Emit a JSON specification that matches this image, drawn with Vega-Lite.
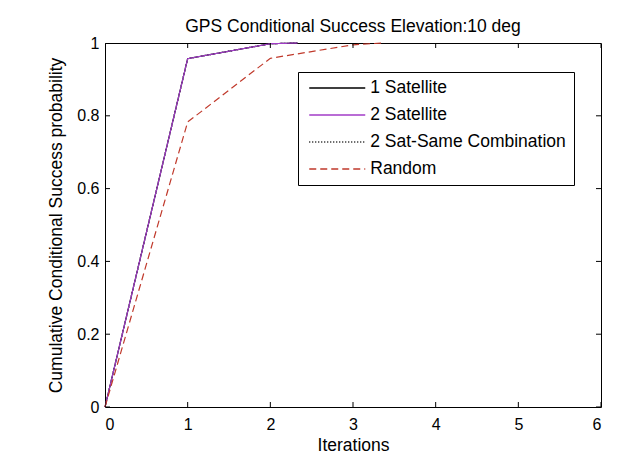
{
  "$schema": "https://vega.github.io/schema/vega-lite/v6.json",
  "width": 496,
  "height": 364,
  "autosize": {"type": "none"},
  "padding": {"left": 105, "top": 43, "right": 36, "bottom": 52},
  "background": "white",
  "title": {
    "text": "GPS Conditional Success Elevation:10 deg",
    "font": "Liberation Sans",
    "fontSize": 17.5,
    "fontWeight": "normal",
    "color": "black",
    "offset": 0
  },
  "config": {
    "view": {"stroke": "black", "strokeWidth": 1},
    "axis": {
      "grid": false,
      "domain": false,
      "ticks": false,
      "labelColor": "black",
      "titleColor": "black",
      "labelFont": "Liberation Sans",
      "titleFont": "Liberation Sans",
      "labelFontSize": 16,
      "titleFontSize": 17.5,
      "titleFontWeight": "normal"
    },
    "legend": {
      "orient": "none",
      "legendX": 193,
      "legendY": 29,
      "direction": "vertical",
      "symbolType": "stroke",
      "symbolSize": 3136,
      "symbolStrokeWidth": 1.3,
      "symbolOffset": 3,
      "symbolOpacity": 1,
      "clipHeight": 17.5,
      "rowPadding": 8,
      "labelOffset": 4,
      "labelFont": "Liberation Sans",
      "labelFontSize": 17.5,
      "labelColor": "black",
      "labelLimit": 400,
      "padding": 7.25,
      "strokeColor": "black",
      "fillColor": "white"
    }
  },
  "datasets": {
    "curves": [
      {"series": "1 Satellite", "iteration": 0, "prob": 0.0},
      {"series": "1 Satellite", "iteration": 1, "prob": 0.957},
      {"series": "1 Satellite", "iteration": 2, "prob": 0.998},
      {"series": "1 Satellite", "iteration": 2.33, "prob": 1.0},
      {"series": "2 Satellite", "iteration": 0, "prob": 0.0},
      {"series": "2 Satellite", "iteration": 1, "prob": 0.957},
      {"series": "2 Satellite", "iteration": 2, "prob": 0.998},
      {"series": "2 Satellite", "iteration": 2.33, "prob": 1.0},
      {"series": "2 Sat-Same Combination", "iteration": 0, "prob": 0.0},
      {"series": "2 Sat-Same Combination", "iteration": 1, "prob": 0.957},
      {"series": "2 Sat-Same Combination", "iteration": 2, "prob": 0.998},
      {"series": "2 Sat-Same Combination", "iteration": 2.33, "prob": 1.0},
      {"series": "Random", "iteration": 0, "prob": 0.0},
      {"series": "Random", "iteration": 1, "prob": 0.783},
      {"series": "Random", "iteration": 2, "prob": 0.958},
      {"series": "Random", "iteration": 3, "prob": 0.995},
      {"series": "Random", "iteration": 3.35, "prob": 1.0}
    ],
    "xTicks": [
      {"iteration": 0}, {"iteration": 1}, {"iteration": 2}, {"iteration": 3},
      {"iteration": 4}, {"iteration": 5}, {"iteration": 6}
    ],
    "yTicks": [
      {"prob": 0}, {"prob": 0.2}, {"prob": 0.4}, {"prob": 0.6}, {"prob": 0.8}, {"prob": 1}
    ]
  },
  "layer": [
    {
      "data": {"name": "curves"},
      "transform": [{"filter": "datum.series === '1 Satellite' || datum.series === '2 Sat-Same Combination'"}],
      "mark": {"type": "line", "strokeWidth": 1.2},
      "encoding": {
        "x": {
          "field": "iteration",
          "type": "quantitative",
          "scale": {"domain": [0, 6], "nice": false, "zero": false},
          "axis": {"title": "Iterations", "values": [0, 1, 2, 3, 4, 5, 6], "format": "d", "labelPadding": 9, "titlePadding": 4}
        },
        "y": {
          "field": "prob",
          "type": "quantitative",
          "scale": {"domain": [0, 1], "nice": false},
          "axis": {"title": "Cumulative Conditional Success probability", "values": [0, 0.2, 0.4, 0.6, 0.8, 1], "format": "~g", "labelPadding": 6, "titlePadding": 11}
        },
        "color": {
          "field": "series",
          "type": "nominal",
          "scale": {
            "domain": ["1 Satellite", "2 Satellite", "2 Sat-Same Combination", "Random"],
            "range": ["#000000", "#a23cc8", "#000000", "#c0392b"]
          },
          "legend": {"title": null}
        },
        "strokeDash": {
          "field": "series",
          "type": "nominal",
          "scale": {
            "domain": ["1 Satellite", "2 Satellite", "2 Sat-Same Combination", "Random"],
            "range": [[1, 0], [1, 0], [1, 2], [7, 4]]
          },
          "legend": {"title": null}
        }
      }
    },
    {
      "data": {"name": "curves"},
      "transform": [{"filter": "datum.series === '2 Satellite'"}],
      "mark": {"type": "line", "strokeWidth": 1.2},
      "encoding": {
        "x": {"field": "iteration", "type": "quantitative", "axis": null},
        "y": {"field": "prob", "type": "quantitative", "axis": null},
        "color": {"field": "series", "type": "nominal", "legend": {"title": null}},
        "strokeDash": {"field": "series", "type": "nominal", "legend": {"title": null}}
      }
    },
    {
      "data": {"name": "curves"},
      "transform": [{"filter": "datum.series === 'Random'"}],
      "mark": {"type": "line", "strokeWidth": 1.2},
      "encoding": {
        "x": {"field": "iteration", "type": "quantitative", "axis": null},
        "y": {"field": "prob", "type": "quantitative", "axis": null},
        "color": {"field": "series", "type": "nominal", "legend": {"title": null}},
        "strokeDash": {"field": "series", "type": "nominal", "legend": {"title": null}}
      }
    },
    {
      "data": {"name": "xTicks"},
      "mark": {"type": "tick", "orient": "vertical", "size": 10, "thickness": 1, "color": "black", "opacity": 1, "clip": true},
      "encoding": {
        "x": {"field": "iteration", "type": "quantitative", "axis": null},
        "y": {"datum": 0, "type": "quantitative", "axis": null}
      }
    },
    {
      "data": {"name": "xTicks"},
      "mark": {"type": "tick", "orient": "vertical", "size": 10, "thickness": 1, "color": "black", "opacity": 1, "clip": true},
      "encoding": {
        "x": {"field": "iteration", "type": "quantitative", "axis": null},
        "y": {"datum": 1, "type": "quantitative", "axis": null}
      }
    },
    {
      "data": {"name": "yTicks"},
      "mark": {"type": "tick", "orient": "horizontal", "size": 10, "thickness": 1, "color": "black", "opacity": 1, "clip": true},
      "encoding": {
        "y": {"field": "prob", "type": "quantitative", "axis": null},
        "x": {"datum": 0, "type": "quantitative", "axis": null}
      }
    },
    {
      "data": {"name": "yTicks"},
      "mark": {"type": "tick", "orient": "horizontal", "size": 10, "thickness": 1, "color": "black", "opacity": 1, "clip": true},
      "encoding": {
        "y": {"field": "prob", "type": "quantitative", "axis": null},
        "x": {"datum": 6, "type": "quantitative", "axis": null}
      }
    }
  ],
  "resolve": {"axis": {"x": "independent", "y": "independent"}}
}
